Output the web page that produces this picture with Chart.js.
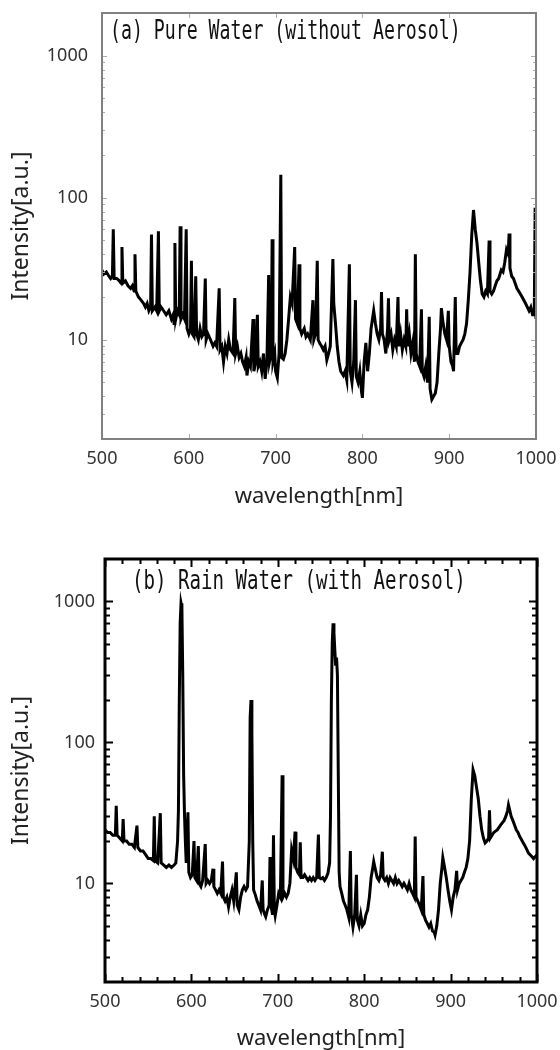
<!DOCTYPE html>
<html>
<head>
<meta charset="utf-8">
<script src="https://cdn.jsdelivr.net/npm/chart.js@4.4.1/dist/chart.umd.min.js"></script>
<style>
  html, body { margin: 0; padding: 0; background: #fff; }
  #wrap { position: relative; width: 560px; height: 1050px; }
  canvas { position: absolute; left: 0; }
</style>
</head>
<body>
<div id="wrap">
  <canvas id="chart-a" width="560" height="525" style="top:0"></canvas>
  <canvas id="chart-b" width="560" height="525" style="top:525px"></canvas>
</div>
<script>
// axis tick labels
const xTicks = [500, 600, 700, 800, 900, 1000];
const yTicks = [10, 100, 1000];

// (a) pure water spectrum
const wavelengthA = [
  500, 502, 505, 508, 510, 512, 513, 514, 517, 520, 522, 523, 524, 527, 530, 533, 535, 537, 538, 539,
  542, 545, 548, 550, 552, 554, 556, 557, 558, 561, 563, 565, 566, 568, 571, 574, 577, 580, 582, 583,
  584, 585, 587, 589, 590, 591, 593, 595, 597, 598, 600, 602, 603, 604, 606, 608, 609, 611, 613, 615,
  617, 619, 620, 622, 625, 628, 630, 632, 635, 636, 638, 640, 642, 644, 646, 648, 651, 653, 654, 656,
  658, 660, 662, 664, 666, 667, 669, 671, 674, 675, 677, 679, 680, 682, 684, 686, 688, 690, 692, 693,
  695, 696, 697, 699, 700, 702, 704, 706, 707, 709, 711, 713, 715, 717, 719, 722, 723, 725, 727, 728,
  730, 733, 735, 737, 740, 743, 744, 746, 748, 749, 751, 753, 755, 757, 759, 761, 763, 766, 767, 769,
  771, 773, 775, 778, 780, 782, 785, 786, 788, 790, 792, 793, 795, 797, 799, 800, 802, 804, 806, 808,
  810, 813, 815, 817, 819, 821, 822, 823, 825, 827, 829, 830, 831, 833, 835, 837, 839, 841, 842, 844,
  846, 848, 850, 851, 852, 854, 856, 858, 860, 861, 862, 864, 866, 868, 869, 871, 873, 875, 877, 878,
  880, 882, 884, 886, 888, 890, 891, 893, 895, 897, 899, 900, 902, 904, 905, 907, 908, 910, 912, 914,
  916, 918, 920, 922, 924, 926, 928, 930, 932, 934, 936, 938, 940, 942, 944, 946, 947, 949, 951, 953,
  955, 957, 960, 962, 964, 966, 968, 969, 970, 972, 974, 976, 978, 980, 982, 984, 986, 988, 990, 992,
  994, 996, 998, 999, 1000
];
const intensityA = [
  31, 29, 30, 28, 27, 28, 60, 27, 27, 26, 25, 45, 25, 26, 24, 23, 24, 22, 40, 22,
  20, 19, 18, 17, 18, 16, 17, 55, 16, 17, 16, 58, 16, 17, 16, 15, 16, 14, 15, 13,
  48, 14, 16, 15, 63, 14, 15, 14, 60, 12, 11, 12, 36, 11, 10.5, 28, 11, 10, 12, 10.5,
  11, 27, 10, 11, 10, 9, 9.5, 9, 23, 8.5, 9, 7, 9, 8, 10, 8.5, 8, 19.7, 8, 9,
  7.5, 8, 7, 6.5, 7.5, 5.6, 7, 6.5, 14, 6, 7, 15, 6.5, 7, 6, 8, 5.3, 7, 28.6, 7,
  8, 51, 7, 8, 6, 5.4, 8, 145, 7.5, 7.3, 8, 10, 14, 20, 18, 45, 14, 13, 34, 12,
  11, 12, 10.5, 11, 10, 19, 10, 11, 36, 10, 9.4, 9, 8.5, 9, 7.2, 8, 9, 37, 18, 13,
  9, 7, 6, 5.6, 6, 5.2, 34, 6, 5, 7, 19, 5.5, 5, 6, 4.3, 3.9, 7, 9.5, 6, 8,
  12, 16, 13, 11, 10, 12, 21.7, 11, 10, 8, 12, 19.6, 10, 11, 8.5, 10, 9, 20, 9, 11,
  8.5, 10, 9, 16.4, 9, 11, 8, 9.5, 7, 40, 8, 7, 6.5, 16.4, 6, 5.5, 6.5, 5, 14.5, 4.5,
  3.8, 4, 4.2, 5, 8, 12, 16.7, 13, 11, 10, 16, 9, 7, 6.5, 6, 20, 8, 8, 9, 9.5,
  10, 11, 13, 19, 30, 55, 82, 60, 48, 35, 26, 21, 20, 22, 21, 50, 22, 21, 22, 24,
  26, 27, 31, 30, 35, 43, 40, 56, 32, 28, 27, 25, 23, 22, 21, 20, 19, 18, 17, 16,
  17, 15, 15, 85, 14
];

// (b) rain water spectrum
const wavelengthB = [
  500, 503, 506, 509, 512, 513, 514, 517, 520, 521, 522, 525, 528, 531, 534, 537, 538, 541, 544, 547,
  550, 553, 556, 557, 558, 561, 564, 565, 568, 571, 574, 577, 580, 582, 584, 585, 586, 587, 588, 589,
  590, 591, 592, 593, 594, 596, 597, 599, 601, 603, 604, 606, 608, 609, 611, 613, 616, 617, 619, 621,
  623, 625, 626, 628, 630, 632, 634, 636, 637, 639, 641, 643, 645, 647, 649, 652, 653, 655, 657, 659,
  661, 663, 665, 667, 668, 669, 670, 671, 672, 674, 676, 678, 680, 682, 683, 685, 686, 688, 690, 691,
  692, 694, 695, 696, 697, 699, 701, 703, 705, 706, 708, 710, 712, 714, 716, 718, 720, 721, 723, 725,
  726, 727, 729, 731, 733, 735, 737, 739, 741, 743, 745, 747, 748, 750, 752, 754, 756, 758, 760, 761,
  762, 763, 764, 765, 766, 767, 768, 769, 770, 771, 772, 774, 776, 778, 780, 782, 784, 785, 787, 789,
  791, 792, 794, 796, 798, 800, 802, 804, 806, 808, 810, 811, 813, 815, 817, 819, 821, 822, 824, 826,
  828, 830, 832, 834, 836, 838, 840, 842, 844, 846, 848, 850, 852, 854, 856, 858, 859, 860, 862, 864,
  866, 868, 869, 871, 873, 875, 877, 879, 881, 882, 884, 886, 888, 890, 891, 893, 895, 897, 899, 901,
  903, 905, 907, 908, 910, 912, 914, 916, 918, 920, 922, 924, 926, 928, 930, 932, 934, 936, 938, 940,
  942, 944, 945, 946, 948, 950, 952, 954, 956, 958, 960, 962, 964, 966, 967, 968, 970, 972, 974, 976,
  978, 980, 982, 984, 986, 988, 990, 992, 994, 996, 998, 1000
];
const intensityB = [
  24, 23, 23, 22, 22, 35.6, 22, 21, 20, 28.6, 20, 20, 19, 19, 18, 25.7, 18, 17, 17, 16,
  15, 15, 14.5, 30, 14.5, 14, 31.5, 14, 13.5, 13, 13.5, 13, 13.5, 14, 20, 33, 200, 700, 970, 900,
  300, 60, 31, 20, 14, 32, 12, 11, 11.5, 20, 11, 10.5, 18.4, 10, 9.5, 10.5, 19, 10, 10.5, 10,
  10.5, 12.7, 9.5, 9, 8.5, 9, 8.5, 14.3, 8, 7.5, 8, 6.8, 8, 9, 7.5, 12, 7, 6.5, 8, 9,
  9.5, 9, 9.5, 20, 150, 200, 120, 20, 9, 8.3, 7.5, 7, 6.5, 10.5, 6.5, 6, 5.8, 6.5, 7, 15.4,
  7, 6, 22, 6.5, 5.9, 7, 8.5, 8, 58.6, 8, 8.5, 8, 8.5, 10, 17.3, 15, 23.3, 13, 12, 11.5,
  19.6, 11, 11, 11.5, 11, 10.5, 11, 10.5, 11, 10.5, 11, 22.2, 11, 10.8, 11, 10.5, 11, 11.8, 14, 30,
  200, 500, 700, 600, 450, 350, 400, 300, 60, 12, 9.5, 8.5, 7.5, 7, 6.5, 5.8, 17, 6, 4.9, 6,
  11.5, 5.5, 5, 6, 5, 5.2, 6, 6.5, 8, 11, 13, 14.3, 12.5, 11, 10.5, 11.5, 16.8, 11, 10.5, 11,
  10, 11, 10.5, 10, 11, 10, 10.5, 10, 9.5, 10, 9.5, 9, 10, 9, 8.5, 8, 21.5, 8, 7.5, 7,
  6.5, 11.3, 6, 5.5, 5.2, 4.9, 5.2, 4.6, 4.5, 4.3, 5, 6.5, 10, 13, 15.2, 13, 11, 9, 7.5, 6.5,
  8, 9, 12.3, 9, 10, 10.5, 11, 12, 13, 15, 20, 40, 64, 58, 48, 40, 30, 24, 21, 19.4,
  20, 21, 33, 21, 22, 23, 23.5, 24, 25, 26, 27, 28, 30, 33, 36, 34, 30, 28, 26, 24,
  23, 21.5, 20.5, 19.4, 18.5, 17.5, 16.5, 16, 15.5, 15, 15.5, 16
];

// frame, inward tick marks and the panel caption
const frameTicks = {
  id: 'frameTicks',
  afterDraw(chart, args, o) {
    const { ctx, chartArea: a, scales: { x, y } } = chart;
    ctx.save();
    ctx.strokeStyle = o.tickColor;
    ctx.lineWidth = o.tickWidth;
    ctx.beginPath();
    for (let v = 500; v <= 1000; v += o.xStep) {
      const px = Math.round(x.getPixelForValue(v)) + 0.5;
      const len = v % 100 === 0 ? o.major : o.minor;
      ctx.moveTo(px, a.bottom); ctx.lineTo(px, a.bottom - len);
      ctx.moveTo(px, a.top); ctx.lineTo(px, a.top + len);
    }
    for (let d = 1; d <= 1000; d *= 10) {
      for (let m = 1; m <= 9; m++) {
        const v = d * m;
        if (v <= 2 || v >= 2000) continue;
        const py = Math.round(y.getPixelForValue(v)) + 0.5;
        const len = m === 1 ? o.major : o.minor;
        ctx.moveTo(a.left, py); ctx.lineTo(a.left + len, py);
        ctx.moveTo(a.right, py); ctx.lineTo(a.right - len, py);
      }
    }
    ctx.stroke();

    ctx.strokeStyle = o.frameColor;
    ctx.lineWidth = o.frameWidth;
    ctx.strokeRect(a.left, a.top, a.width, a.height);

    ctx.fillStyle = '#111';
    ctx.font = o.labelFont;
    ctx.textBaseline = 'middle';
    ctx.textAlign = 'left';
    ctx.translate(a.left + o.labelDx, a.top + o.labelDy);
    ctx.scale(o.labelScale, 1);
    ctx.fillText(o.label, 0, 0);
    ctx.restore();
  }
};

function makeChart(id, xs, ys, o) {
  const points = xs.map((w, i) => ({ x: w, y: ys[i] }));
  return new Chart(document.getElementById(id), {
    type: 'line',
    data: {
      datasets: [{
        data: points,
        borderColor: '#000',
        borderWidth: o.lineWidth,
        pointRadius: 0,
        tension: 0,
        fill: false,
      }],
    },
    options: {
      responsive: false,
      animation: false,
      events: [],
      layout: { padding: { top: o.top, right: o.right, left: 0, bottom: 0 } },
      plugins: {
        legend: { display: false },
        tooltip: { enabled: false },
        frameTicks: o.frame,
      },
      scales: {
        x: {
          type: 'linear',
          min: 500,
          max: 1000,
          afterBuildTicks: s => { s.ticks = xTicks.map(v => ({ value: v })); },
          afterFit: s => { s.height = o.xHeight; s.paddingLeft = 0; s.paddingRight = 0; },
          grid: { display: false, drawTicks: false },
          border: { display: false },
          ticks: {
            padding: o.xPad,
            color: '#333',
            font: { family: 'Noto Sans', size: 18 },
            maxRotation: 0,
            callback: v => String(v),
          },
          title: {
            display: true,
            text: 'wavelength[nm]',
            color: '#222',
            font: { family: 'Noto Sans', size: 22, lineHeight: 1 },
            padding: { top: 0, bottom: o.xTitlePad },
          },
        },
        y: {
          type: 'logarithmic',
          min: 2,
          max: 2000,
          afterBuildTicks: s => { s.ticks = yTicks.map(v => ({ value: v })); },
          afterFit: s => { s.width = o.left; s.paddingTop = 0; s.paddingBottom = 0; },
          grid: { display: false, drawTicks: false },
          border: { display: false },
          ticks: {
            padding: o.yPad,
            color: '#333',
            font: { family: 'Noto Sans', size: 18 },
            callback: v => String(v),
          },
          title: {
            display: true,
            text: 'Intensity[a.u.]',
            color: '#222',
            font: { family: 'Noto Sans', size: 23, lineHeight: 1 },
            padding: { top: 10, bottom: 0 },
          },
        },
      },
    },
    plugins: [frameTicks],
  });
}

makeChart('chart-a', wavelengthA, intensityA, {
  top: 13, right: 24, left: 102, xHeight: 86, xPad: 9, yPad: 14, xTitlePad: 17, lineWidth: 3,
  frame: {
    tickColor: '#aaa', tickWidth: 1, frameColor: '#808080', frameWidth: 2,
    xStep: 100, major: 5, minor: 3,
    label: '(a) Pure Water (without Aerosol)',
    labelFont: '26px "DejaVu Sans Mono"', labelScale: 0.70, labelDx: 8, labelDy: 19,
  },
});

makeChart('chart-b', wavelengthB, intensityB, {
  top: 34, right: 23, left: 105, xHeight: 68, xPad: 9, yPad: 10, xTitlePad: 0, lineWidth: 3,
  frame: {
    tickColor: '#000', tickWidth: 2, frameColor: '#000', frameWidth: 3,
    xStep: 20, major: 8, minor: 5,
    label: '(b) Rain Water (with Aerosol)',
    labelFont: '26px "DejaVu Sans Mono"', labelScale: 0.735, labelDx: 27, labelDy: 23,
  },
});
</script>
</body>
</html>
